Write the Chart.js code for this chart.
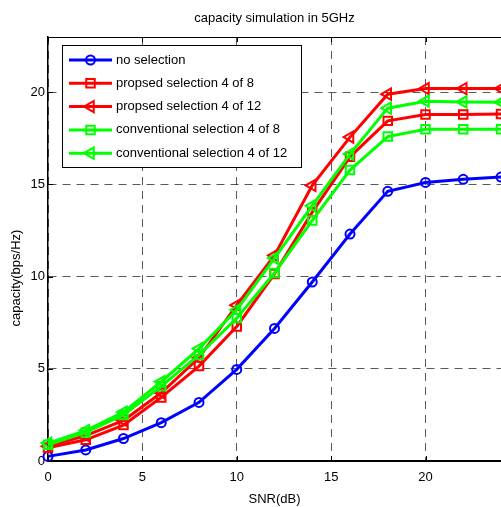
<!DOCTYPE html>
<html>
<head>
<meta charset="utf-8">
<script src="https://cdn.jsdelivr.net/npm/chart.js"></script>
<style>
  html, body { margin: 0; padding: 0; background: #fff; overflow: hidden; }
  #wrap { width: 501px; height: 507px; }
</style>
</head>
<body>
<div id="wrap"><canvas id="c" width="501" height="507"></canvas></div>
<script>
// ---- data ----
const snr = [0, 2, 4, 6, 8, 10, 12, 14, 16, 18, 20, 22, 24];
const noSelection   = [0.25, 0.60, 1.22, 2.08, 3.18, 4.97, 7.19, 9.71, 12.31, 14.63, 15.11, 15.28, 15.40];
const proposed4of8  = [0.72, 1.15, 1.95, 3.45, 5.15, 7.30, 10.15, 13.50, 16.50, 18.45, 18.80, 18.80, 18.82];
const proposed4of12 = [0.80, 1.38, 2.20, 3.70, 5.60, 8.45, 11.15, 14.95, 17.57, 19.90, 20.20, 20.20, 20.20];
const conv4of8      = [0.88, 1.55, 2.50, 4.05, 5.75, 7.75, 10.20, 13.05, 15.78, 17.60, 18.00, 18.00, 18.00];
const conv4of12     = [0.97, 1.65, 2.65, 4.30, 6.10, 8.20, 11.00, 13.85, 16.65, 19.14, 19.52, 19.48, 19.46];
const seriesLabels = ['no selection', 'propsed selection 4 of 8', 'propsed selection 4 of 12',
                      'conventional selection 4 of 8', 'conventional selection 4 of 12'];
const xTicks = [0, 5, 10, 15, 20];
const yTicks = [0, 5, 10, 15, 20];
const titleText = 'capacity simulation in 5GHz';
const xLabel = 'SNR(dB)';
const yLabel = 'capacity(bps/Hz)';

const FONT = '"Liberation Sans", Arial, Helvetica, sans-serif';
const toPts = arr => snr.map((x, i) => ({ x: x, y: arr[i] }));

function ds(label, data, color, style, radius, order) {
  return {
    label: label, data: toPts(data), borderColor: color, backgroundColor: color,
    borderWidth: 3, pointStyle: style, pointRadius: radius, pointHoverRadius: radius,
    pointBorderWidth: 2, pointBorderColor: color, pointBackgroundColor: 'rgba(0,0,0,0)',
    pointRotation: style === 'triangle' ? -90 : 0, tension: 0, clip: false, order: order
  };
}

const datasets = [
  ds(seriesLabels[0], noSelection,   '#0000ff', 'circle',   4.5, 4),
  ds(seriesLabels[1], proposed4of8,  '#ff0000', 'rect',     6,   3),
  ds(seriesLabels[2], proposed4of12, '#ff0000', 'triangle', 6.5, 2),
  ds(seriesLabels[3], conv4of8,      '#00ff00', 'rect',     6,   1),
  ds(seriesLabels[4], conv4of12,     '#00ff00', 'triangle', 6.5, 0)
];

function marker(ctx, d, x, y) {
  const opts = { pointStyle: d.pointStyle, radius: d.pointRadius, rotation: d.pointRotation, borderWidth: d.pointBorderWidth };
  ctx.save();
  ctx.strokeStyle = d.pointBorderColor;
  ctx.fillStyle = 'rgba(0,0,0,0)';
  ctx.lineWidth = d.pointBorderWidth;
  Chart.helpers.drawPoint(ctx, opts, x, y);
  ctx.restore();
}

const framePlugin = {
  id: 'frame',
  afterDraw(chart) {
    const ctx = chart.ctx, a = chart.chartArea;
    const xs = chart.scales.x, ys = chart.scales.y;
    ctx.save();
    // box: top border
    ctx.strokeStyle = '#000';
    ctx.lineWidth = 1;
    ctx.beginPath(); ctx.moveTo(a.left, a.top + 0.5); ctx.lineTo(a.right, a.top + 0.5); ctx.stroke();
    // inward tick marks
    ctx.lineWidth = 1;
    xTicks.forEach(v => {
      const px = Math.round(xs.getPixelForValue(v)) + 0.5;
      ctx.beginPath(); ctx.moveTo(px, a.bottom); ctx.lineTo(px, a.bottom - 5); ctx.stroke();
      ctx.beginPath(); ctx.moveTo(px, a.top); ctx.lineTo(px, a.top + 5); ctx.stroke();
    });
    yTicks.forEach(v => {
      const py = Math.round(ys.getPixelForValue(v)) + 0.5;
      ctx.beginPath(); ctx.moveTo(a.left, py); ctx.lineTo(a.left + 5, py); ctx.stroke();
    });
    // legend box
    const L = 62, T = 45, R = 301, B = 167;
    ctx.fillStyle = '#fff';
    ctx.fillRect(L, T, R - L, B - T);
    ctx.strokeStyle = '#000'; ctx.lineWidth = 1;
    ctx.strokeRect(L + 0.5, T + 0.5, R - L, B - T);
    ctx.font = '13px ' + FONT;
    ctx.textBaseline = 'middle';
    ctx.textAlign = 'left';
    chart.data.datasets.forEach((d, i) => {
      const y = 60 + i * 23.3;
      ctx.strokeStyle = d.borderColor; ctx.lineWidth = 3;
      ctx.beginPath(); ctx.moveTo(69, y); ctx.lineTo(112, y); ctx.stroke();
      marker(ctx, d, 90.5, y);
      ctx.fillStyle = '#000';
      ctx.fillText(d.label, 116, y);
    });
    // y axis label
    ctx.save();
    ctx.translate(16, 278);
    ctx.rotate(-Math.PI / 2);
    ctx.textAlign = 'center'; ctx.textBaseline = 'middle';
    ctx.fillStyle = '#000';
    ctx.fillText(yLabel, 0, 0);
    ctx.restore();
    ctx.restore();
  }
};

new Chart(document.getElementById('c'), {
  type: 'line',
  data: { datasets: datasets },
  options: {
    responsive: false,
    animation: false,
    events: [],
    layout: { autoPadding: false, padding: { left: 0, right: 0, top: 0, bottom: 0 } },
    plugins: {
      legend: { display: false },
      tooltip: { enabled: false },
      title: {
        display: true, text: titleText, fullSize: false, color: '#000',
        font: { family: FONT, size: 13, weight: 'normal' },
        padding: { top: 11, bottom: 10.4 }
      }
    },
    scales: {
      x: {
        type: 'linear', min: 0, max: 24,
        afterBuildTicks: s => { s.ticks = xTicks.map(v => ({ value: v })); },
        afterFit: s => { s.height = 46; },
        grid: { color: 'rgba(0,0,0,0.65)', lineWidth: 1, drawTicks: false },
        border: { display: true, color: '#000', width: 2, dash: [8, 6] },
        ticks: { color: '#000', padding: 9, maxRotation: 0, font: { family: FONT, size: 13 } },
        title: { display: true, text: xLabel, color: '#000', font: { family: FONT, size: 13 }, padding: { top: 4, bottom: 0 } }
      },
      y: {
        type: 'linear', min: 0, max: 23,
        afterBuildTicks: s => { s.ticks = yTicks.map(v => ({ value: v })); },
        afterFit: s => { s.width = 48; },
        grid: { color: 'rgba(0,0,0,0.65)', lineWidth: 1, drawTicks: false },
        border: { display: true, color: '#000', width: 1.5, dash: [8, 6] },
        ticks: { color: '#000', padding: 3, font: { family: FONT, size: 13 } }
      }
    }
  },
  plugins: [framePlugin]
});
</script>
</body>
</html>
